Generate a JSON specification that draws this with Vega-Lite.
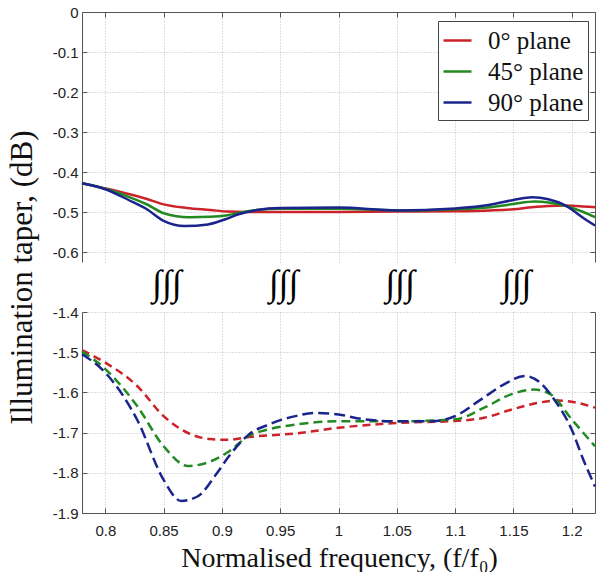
{
  "$schema": "https://vega.github.io/schema/vega-lite/v6.json",
  "padding": {"left": 6, "top": 5, "right": 0, "bottom": 0},
  "bounds": "flush",
  "spacing": 50,
  "config": {
    "locale": {"number": {"decimal": ".", "thousands": ",", "grouping": [3], "currency": ["$", ""], "minus": "-"}},
    "view": {"stroke": null},
    "axis": {
      "labelFont": "Liberation Sans", "labelFontSize": 15, "labelColor": "#222",
      "titleFont": "Liberation Serif", "titleFontWeight": "normal", "titleColor": "#111",
      "domainColor": "#555", "tickColor": "#555", "tickSize": -5,
      "gridColor": "#bdbdbd", "gridDash": [1, 2], "gridWidth": 1
    },
    "legend": {"labelFont": "Liberation Serif", "labelFontSize": 25}
  },
  "datasets": {
    "top": [
      {"f": 0.78, "v": -0.428, "plane": "0° plane"}, {"f": 0.80, "v": -0.441, "plane": "0° plane"}, {"f": 0.82, "v": -0.455, "plane": "0° plane"}, {"f": 0.835, "v": -0.467, "plane": "0° plane"}, {"f": 0.85, "v": -0.481, "plane": "0° plane"}, {"f": 0.87, "v": -0.490, "plane": "0° plane"}, {"f": 0.89, "v": -0.495, "plane": "0° plane"}, {"f": 0.905, "v": -0.499, "plane": "0° plane"}, {"f": 0.92, "v": -0.500, "plane": "0° plane"}, {"f": 0.95, "v": -0.500, "plane": "0° plane"}, {"f": 1.0, "v": -0.500, "plane": "0° plane"}, {"f": 1.05, "v": -0.499, "plane": "0° plane"}, {"f": 1.10, "v": -0.498, "plane": "0° plane"}, {"f": 1.13, "v": -0.496, "plane": "0° plane"}, {"f": 1.15, "v": -0.493, "plane": "0° plane"}, {"f": 1.166, "v": -0.488, "plane": "0° plane"}, {"f": 1.18, "v": -0.485, "plane": "0° plane"}, {"f": 1.195, "v": -0.484, "plane": "0° plane"}, {"f": 1.21, "v": -0.486, "plane": "0° plane"}, {"f": 1.22, "v": -0.488, "plane": "0° plane"},
      {"f": 0.78, "v": -0.428, "plane": "45° plane"}, {"f": 0.80, "v": -0.442, "plane": "45° plane"}, {"f": 0.82, "v": -0.462, "plane": "45° plane"}, {"f": 0.835, "v": -0.480, "plane": "45° plane"}, {"f": 0.85, "v": -0.503, "plane": "45° plane"}, {"f": 0.872, "v": -0.513, "plane": "45° plane"}, {"f": 0.89, "v": -0.512, "plane": "45° plane"}, {"f": 0.905, "v": -0.508, "plane": "45° plane"}, {"f": 0.915, "v": -0.502, "plane": "45° plane"}, {"f": 0.93, "v": -0.495, "plane": "45° plane"}, {"f": 0.95, "v": -0.492, "plane": "45° plane"}, {"f": 1.0, "v": -0.492, "plane": "45° plane"}, {"f": 1.05, "v": -0.496, "plane": "45° plane"}, {"f": 1.10, "v": -0.493, "plane": "45° plane"}, {"f": 1.13, "v": -0.488, "plane": "45° plane"}, {"f": 1.15, "v": -0.480, "plane": "45° plane"}, {"f": 1.168, "v": -0.474, "plane": "45° plane"}, {"f": 1.18, "v": -0.476, "plane": "45° plane"}, {"f": 1.195, "v": -0.485, "plane": "45° plane"}, {"f": 1.21, "v": -0.500, "plane": "45° plane"}, {"f": 1.22, "v": -0.513, "plane": "45° plane"},
      {"f": 0.78, "v": -0.428, "plane": "90° plane"}, {"f": 0.80, "v": -0.443, "plane": "90° plane"}, {"f": 0.82, "v": -0.470, "plane": "90° plane"}, {"f": 0.835, "v": -0.492, "plane": "90° plane"}, {"f": 0.85, "v": -0.522, "plane": "90° plane"}, {"f": 0.868, "v": -0.535, "plane": "90° plane"}, {"f": 0.888, "v": -0.531, "plane": "90° plane"}, {"f": 0.903, "v": -0.518, "plane": "90° plane"}, {"f": 0.915, "v": -0.505, "plane": "90° plane"}, {"f": 0.93, "v": -0.495, "plane": "90° plane"}, {"f": 0.95, "v": -0.490, "plane": "90° plane"}, {"f": 1.0, "v": -0.489, "plane": "90° plane"}, {"f": 1.05, "v": -0.496, "plane": "90° plane"}, {"f": 1.10, "v": -0.491, "plane": "90° plane"}, {"f": 1.13, "v": -0.482, "plane": "90° plane"}, {"f": 1.15, "v": -0.470, "plane": "90° plane"}, {"f": 1.166, "v": -0.463, "plane": "90° plane"}, {"f": 1.18, "v": -0.468, "plane": "90° plane"}, {"f": 1.195, "v": -0.484, "plane": "90° plane"}, {"f": 1.21, "v": -0.515, "plane": "90° plane"}, {"f": 1.22, "v": -0.534, "plane": "90° plane"}
    ],
    "bottom": [
      {"f": 0.78, "v": -1.495, "plane": "0° plane"}, {"f": 0.80, "v": -1.526, "plane": "0° plane"}, {"f": 0.8273, "v": -1.584, "plane": "0° plane"}, {"f": 0.85, "v": -1.659, "plane": "0° plane"}, {"f": 0.871, "v": -1.701, "plane": "0° plane"}, {"f": 0.89, "v": -1.716, "plane": "0° plane"}, {"f": 0.906, "v": -1.718, "plane": "0° plane"}, {"f": 0.923, "v": -1.711, "plane": "0° plane"}, {"f": 0.94, "v": -1.707, "plane": "0° plane"}, {"f": 0.963, "v": -1.702, "plane": "0° plane"}, {"f": 1.0, "v": -1.688, "plane": "0° plane"}, {"f": 1.05, "v": -1.676, "plane": "0° plane"}, {"f": 1.10, "v": -1.671, "plane": "0° plane"}, {"f": 1.125, "v": -1.663, "plane": "0° plane"}, {"f": 1.148, "v": -1.643, "plane": "0° plane"}, {"f": 1.171, "v": -1.626, "plane": "0° plane"}, {"f": 1.188, "v": -1.620, "plane": "0° plane"}, {"f": 1.205, "v": -1.626, "plane": "0° plane"}, {"f": 1.22, "v": -1.638, "plane": "0° plane"},
      {"f": 0.78, "v": -1.498, "plane": "45° plane"}, {"f": 0.80, "v": -1.542, "plane": "45° plane"}, {"f": 0.8273, "v": -1.634, "plane": "45° plane"}, {"f": 0.85, "v": -1.734, "plane": "45° plane"}, {"f": 0.871, "v": -1.783, "plane": "45° plane"}, {"f": 0.89, "v": -1.772, "plane": "45° plane"}, {"f": 0.906, "v": -1.747, "plane": "45° plane"}, {"f": 0.923, "v": -1.708, "plane": "45° plane"}, {"f": 0.94, "v": -1.692, "plane": "45° plane"}, {"f": 0.963, "v": -1.680, "plane": "45° plane"}, {"f": 1.0, "v": -1.672, "plane": "45° plane"}, {"f": 1.05, "v": -1.672, "plane": "45° plane"}, {"f": 1.10, "v": -1.667, "plane": "45° plane"}, {"f": 1.125, "v": -1.638, "plane": "45° plane"}, {"f": 1.148, "v": -1.605, "plane": "45° plane"}, {"f": 1.168, "v": -1.593, "plane": "45° plane"}, {"f": 1.182, "v": -1.605, "plane": "45° plane"}, {"f": 1.20, "v": -1.667, "plane": "45° plane"}, {"f": 1.22, "v": -1.734, "plane": "45° plane"},
      {"f": 0.78, "v": -1.505, "plane": "90° plane"}, {"f": 0.80, "v": -1.551, "plane": "90° plane"}, {"f": 0.8273, "v": -1.668, "plane": "90° plane"}, {"f": 0.85, "v": -1.8175, "plane": "90° plane"}, {"f": 0.865, "v": -1.870, "plane": "90° plane"}, {"f": 0.879, "v": -1.859, "plane": "90° plane"}, {"f": 0.896, "v": -1.800, "plane": "90° plane"}, {"f": 0.906, "v": -1.759, "plane": "90° plane"}, {"f": 0.923, "v": -1.705, "plane": "90° plane"}, {"f": 0.94, "v": -1.680, "plane": "90° plane"}, {"f": 0.963, "v": -1.659, "plane": "90° plane"}, {"f": 0.98, "v": -1.651, "plane": "90° plane"}, {"f": 1.0, "v": -1.655, "plane": "90° plane"}, {"f": 1.022, "v": -1.667, "plane": "90° plane"}, {"f": 1.05, "v": -1.672, "plane": "90° plane"}, {"f": 1.08, "v": -1.672, "plane": "90° plane"}, {"f": 1.10, "v": -1.659, "plane": "90° plane"}, {"f": 1.122, "v": -1.618, "plane": "90° plane"}, {"f": 1.142, "v": -1.580, "plane": "90° plane"}, {"f": 1.16, "v": -1.559, "plane": "90° plane"}, {"f": 1.173, "v": -1.576, "plane": "90° plane"}, {"f": 1.185, "v": -1.6175, "plane": "90° plane"}, {"f": 1.20, "v": -1.6925, "plane": "90° plane"}, {"f": 1.21, "v": -1.7675, "plane": "90° plane"}, {"f": 1.22, "v": -1.834, "plane": "90° plane"}
    ],
    "breaks": [
      {"f": 0.853, "v": -0.68, "s": "∫∫∫"}, {"f": 0.953, "v": -0.68, "s": "∫∫∫"}, {"f": 1.053, "v": -0.68, "s": "∫∫∫"}, {"f": 1.153, "v": -0.68, "s": "∫∫∫"}
    ]
  },
  "vconcat": [
    {
      "width": 513,
      "height": 250,
      "resolve": {"axis": {"y": "independent"}},
      "layer": [
        {
          "data": {"name": "top"},
          "mark": {"type": "line", "strokeWidth": 2.5, "interpolate": "monotone"},
          "encoding": {
            "x": {"field": "f", "type": "quantitative", "scale": {"domain": [0.78, 1.22], "nice": false, "zero": false},
                  "axis": {"orient": "top", "labels": false, "title": null, "values": [0.8, 0.85, 0.9, 0.95, 1.0, 1.05, 1.1, 1.15, 1.2], "grid": true}},
            "y": {"field": "v", "type": "quantitative", "scale": {"domain": [-0.625, 0], "nice": false, "zero": false},
                  "axis": {"values": [0, -0.1, -0.2, -0.3, -0.4, -0.5, -0.6], "format": ".1~f", "grid": true, "labelPadding": 9,
                           "title": "Illumination taper, (dB)", "titleFontSize": 31, "titleX": -51, "titleY": 265,
                           "titleAlign": "center", "titleBaseline": "alphabetic", "titleAngle": -90}},
            "color": {"field": "plane", "type": "nominal",
                      "scale": {"domain": ["0° plane", "45° plane", "90° plane"], "range": ["#cc2229", "#238a23", "#1b248c"]},
                      "legend": {"title": null, "orient": "none", "legendX": 356, "legendY": 9,
                                 "symbolType": "stroke", "symbolSize": 784, "symbolStrokeWidth": 2.5,
                                 "labelFont": "Liberation Serif", "labelFontSize": 25, "labelColor": "#111", "labelOffset": 15,
                                 "strokeColor": "#444", "fillColor": "white", "padding": 4, "rowPadding": 2}}
          }
        },
        {
          "data": {"name": "breaks"},
          "mark": {"type": "text", "font": "Liberation Serif", "fontSize": 36, "color": "black", "baseline": "middle", "align": "center"},
          "encoding": {
            "x": {"field": "f", "type": "quantitative",
                  "axis": {"orient": "top", "labels": false, "title": null, "values": [0.8, 0.85, 0.9, 0.95, 1.0, 1.05, 1.1, 1.15, 1.2], "grid": true}},
            "y": {"field": "v", "type": "quantitative", "axis": {"orient": "right", "labels": false, "title": null, "grid": false, "values": [0, -0.1, -0.2, -0.3, -0.4, -0.5, -0.6]}},
            "text": {"field": "s"}
          }
        }
      ]
    },
    {
      "width": 513,
      "height": 201,
      "resolve": {"axis": {"y": "independent"}},
      "layer": [
        {
          "data": {"name": "bottom"},
          "mark": {"type": "line", "strokeWidth": 2.5, "interpolate": "monotone"},
          "encoding": {
            "x": {"field": "f", "type": "quantitative", "scale": {"domain": [0.78, 1.22], "nice": false, "zero": false},
                  "axis": {"values": [0.8, 0.85, 0.9, 0.95, 1.0, 1.05, 1.1, 1.15, 1.2], "format": ".2~f", "grid": true, "labelPadding": 15,
                           "title": "Normalised frequency, (f/f₀)", "titleFontSize": 28, "titleX": 257, "titleY": 53,
                           "titleAlign": "center", "titleBaseline": "alphabetic"}},
            "y": {"field": "v", "type": "quantitative", "scale": {"domain": [-1.9, -1.4], "nice": false, "zero": false},
                  "axis": {"values": [-1.4, -1.5, -1.6, -1.7, -1.8, -1.9], "format": ".1f", "grid": true, "labelPadding": 9, "title": null}},
            "color": {"field": "plane", "type": "nominal",
                      "scale": {"domain": ["0° plane", "45° plane", "90° plane"], "range": ["#cc2229", "#238a23", "#1b248c"]}, "legend": null},
            "strokeDash": {"field": "plane", "type": "nominal",
                           "scale": {"domain": ["0° plane", "45° plane", "90° plane"], "range": [[8, 5], [9, 5], [11, 5]]}, "legend": null}
          }
        },
        {
          "data": {"name": "bottom"},
          "mark": {"type": "line", "strokeOpacity": 0},
          "encoding": {
            "x": {"field": "f", "type": "quantitative",
                  "axis": {"values": [0.8, 0.85, 0.9, 0.95, 1.0, 1.05, 1.1, 1.15, 1.2], "format": ".2~f", "grid": true, "labelPadding": 15,
                           "title": "Normalised frequency, (f/f₀)", "titleFontSize": 28, "titleX": 257, "titleY": 53,
                           "titleAlign": "center", "titleBaseline": "alphabetic"}},
            "y": {"field": "v", "type": "quantitative", "axis": {"orient": "right", "labels": false, "title": null, "grid": false, "values": [-1.4, -1.5, -1.6, -1.7, -1.8, -1.9]}}
          }
        }
      ]
    }
  ],
  "resolve": {"legend": {"color": "independent"}, "scale": {"color": "independent"}}
}
